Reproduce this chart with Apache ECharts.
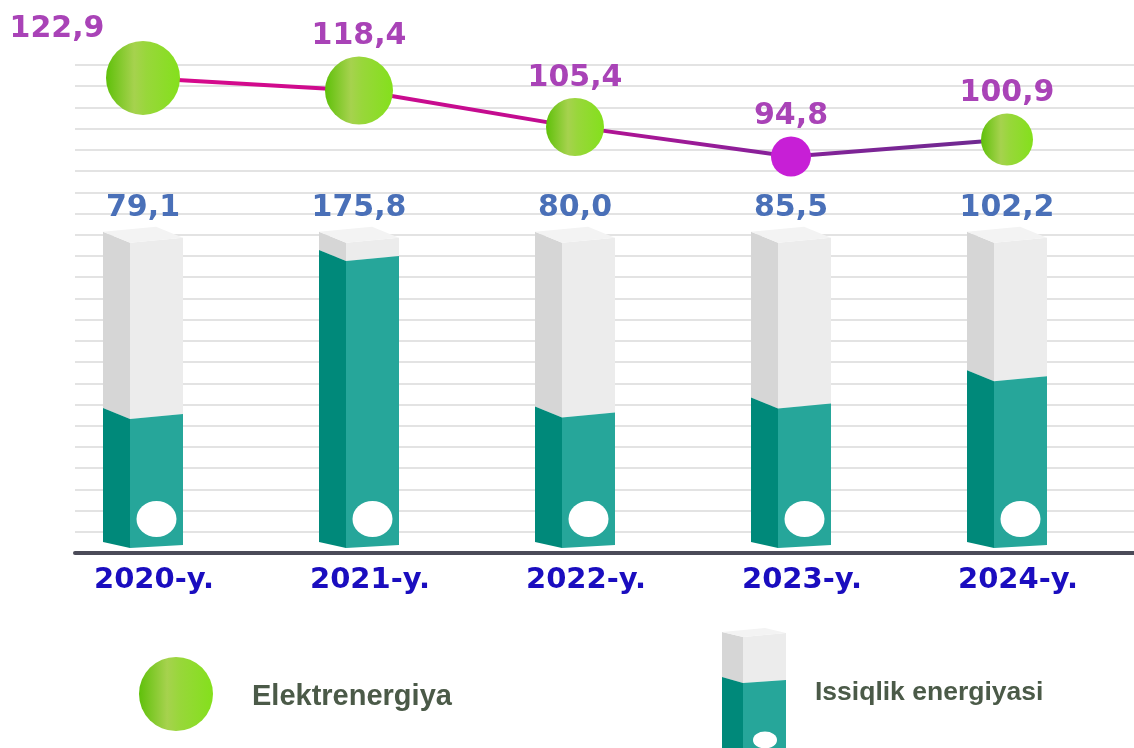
<!DOCTYPE html>
<html>
<head>
<meta charset="utf-8">
<script src="https://cdn.jsdelivr.net/npm/echarts@6/dist/echarts.min.js"></script>
<style>
html, body { margin: 0; padding: 0; background: #fff; }
#chart { width: 1134px; height: 748px; }
</style>
</head>
<body>
<div id="chart"></div>
<script>
const years = ['2020-y.', '2021-y.', '2022-y.', '2023-y.', '2024-y.'];
// Issiqlik energiyasi (columns)
const heatValues = [79.1, 175.8, 80.0, 85.5, 102.2];
// Elektrenergiya (line)
const powerValues = [122.9, 118.4, 105.4, 94.8, 100.9];
// full height of the grey column body
const columnFull = [187, 187, 187, 187, 187];

const markerSizes = [74, 68, 58, 40, 52];
const WIDE = "'DejaVu Sans', Verdana, sans-serif";
const FONT = "'Liberation Sans', Arial, sans-serif";

const fmt = v => Number(v).toFixed(1).replace('.', ',');

const greenFill = () => new echarts.graphic.LinearGradient(0, 0, 1, 0, [
    { offset: 0, color: '#5fc00a' },
    { offset: 0.38, color: '#a6d24e' },
    { offset: 0.55, color: '#98d73a' },
    { offset: 1, color: '#84e01c' }
]);

const chart = echarts.init(document.getElementById('chart'));

function renderColumn(params, api) {
    const i = api.value(0);
    const v = api.value(1);
    const full = api.value(2);
    const base = api.coord([i, 0]);
    const cx = base[0];
    const y0 = base[1] - 5;
    const yv = api.coord([i, v])[1] - 5;
    const yt = api.coord([i, full])[1] - 5;
    const L = cx - 40, K = cx - 13, R = cx + 40;
    return {
        type: 'group',
        children: [
            { type: 'polygon', shape: { points: [[L, yt - 11], [K, yt], [K, yv], [L, yv - 11]] }, style: { fill: '#d6d6d6' } },
            { type: 'polygon', shape: { points: [[K, yt], [R, yt - 5], [R, yv - 5], [K, yv]] }, style: { fill: '#ececec' } },
            { type: 'polygon', shape: { points: [[L, yt - 11], [L + 53, yt - 16], [R, yt - 5], [K, yt]] }, style: { fill: '#f3f3f3' } },
            { type: 'polygon', shape: { points: [[L, yv - 11], [K, yv], [K, y0], [L, y0 - 6]] }, style: { fill: '#00897a' } },
            { type: 'polygon', shape: { points: [[K, yv], [R, yv - 5], [R, y0 - 3], [K, y0]] }, style: { fill: '#26a69a' } },
            { type: 'circle', x: (K + R) / 2, y: y0 - 29, scaleY: 0.9, shape: { cx: 0, cy: 0, r: 20 }, style: { fill: '#ffffff' } },
            {
                type: 'text', x: cx, y: yt - 20,
                style: {
                    text: fmt(v), align: 'center', verticalAlign: 'bottom',
                    fill: '#4a70b8', font: 'bold 30px ' + WIDE
                }
            }
        ]
    };
}

const option = {
    backgroundColor: '#ffffff',
    animation: false,
    grid: [
        { left: 75, right: 0, top: 65, bottom: 195 },   // guide lines + base line
        { left: 35, right: 19, top: 65, bottom: 195 },  // columns
        { left: 35, right: 19, top: 30, height: 140 }   // line
    ],
    xAxis: [
        {
            gridIndex: 0, type: 'value', min: 0, max: 1,
            axisLine: { show: true, lineStyle: { color: '#4b4b58', width: 4, cap: 'round' } },
            axisTick: { show: false }, axisLabel: { show: false }, splitLine: { show: false }
        },
        {
            gridIndex: 1, type: 'category', data: years,
            axisLine: { show: false }, axisTick: { show: false },
            axisLabel: {
                margin: 13, padding: [0, 0, 0, 22],
                color: '#1a0dbf', fontSize: 29, fontWeight: 'bold', fontFamily: WIDE
            }
        },
        {
            gridIndex: 2, type: 'category', data: years, show: false
        }
    ],
    yAxis: [
        {
            gridIndex: 0, type: 'value', min: 0, max: 23, interval: 1,
            axisLine: { show: false }, axisTick: { show: false }, axisLabel: { show: false },
            splitLine: { show: true, lineStyle: { color: '#e3e3e3', width: 2 } }
        },
        {
            gridIndex: 1, type: 'value', min: 0, max: 299, show: false, splitLine: { show: false }
        },
        {
            gridIndex: 2, type: 'value', min: 90, max: 140, show: false, splitLine: { show: false }
        }
    ],
    series: [
        {
            name: 'Issiqlik energiyasi',
            type: 'custom',
            xAxisIndex: 1, yAxisIndex: 1,
            renderItem: renderColumn,
            encode: { x: 0, y: 1 },
            data: heatValues.map((v, i) => [i, v, columnFull[i]]),
            z: 3
        },
        {
            name: 'Elektrenergiya',
            type: 'line',
            xAxisIndex: 2, yAxisIndex: 2,
            symbol: 'circle',
            clip: false,
            z: 5,
            lineStyle: {
                width: 4,
                color: new echarts.graphic.LinearGradient(0, 0, 1, 0, [
                    { offset: 0, color: '#d8098b' },
                    { offset: 0.45, color: '#c20c90' },
                    { offset: 0.72, color: '#88219a' },
                    { offset: 1, color: '#6b2a8f' }
                ])
            },
            itemStyle: { color: greenFill() },
            label: {
                show: true, position: 'top', distance: 5,
                formatter: p => fmt(p.value),
                color: '#a943b7', fontSize: 30, fontWeight: 'bold', fontFamily: WIDE
            },
            data: powerValues.map((v, i) => {
                const d = { value: v, symbolSize: markerSizes[i] };
                if (i === 3) d.itemStyle = { color: '#c71fd6' };
                if (i === 0) d.label = { offset: [-86, 8] };
                return d;
            })
        }
    ],
    graphic: [
        { type: 'circle', shape: { cx: 176, cy: 694, r: 37 }, style: { fill: greenFill() } },
        {
            type: 'text', x: 252, y: 697,
            style: { text: 'Elektrenergiya', fill: '#4b5a48', font: 'bold 29px ' + FONT, verticalAlign: 'middle' }
        },
        { type: 'polygon', shape: { points: [[722, 632], [743, 637], [743, 683], [722, 677]] }, style: { fill: '#d6d6d6' } },
        { type: 'polygon', shape: { points: [[743, 637], [786, 633], [786, 680], [743, 683]] }, style: { fill: '#ececec' } },
        { type: 'polygon', shape: { points: [[722, 632], [765, 628], [786, 633], [743, 637]] }, style: { fill: '#f3f3f3' } },
        { type: 'polygon', shape: { points: [[722, 677], [743, 683], [743, 760], [722, 760]] }, style: { fill: '#00897a' } },
        { type: 'polygon', shape: { points: [[743, 683], [786, 680], [786, 760], [743, 760]] }, style: { fill: '#26a69a' } },
        { type: 'circle', x: 765, y: 740, scaleY: 0.7, shape: { cx: 0, cy: 0, r: 12 }, style: { fill: '#ffffff' } },
        {
            type: 'text', x: 815, y: 693,
            style: { text: 'Issiqlik energiyasi', fill: '#4b5a48', font: 'bold 26.5px ' + FONT, verticalAlign: 'middle' }
        }
    ]
};

chart.setOption(option);
</script>
</body>
</html>
